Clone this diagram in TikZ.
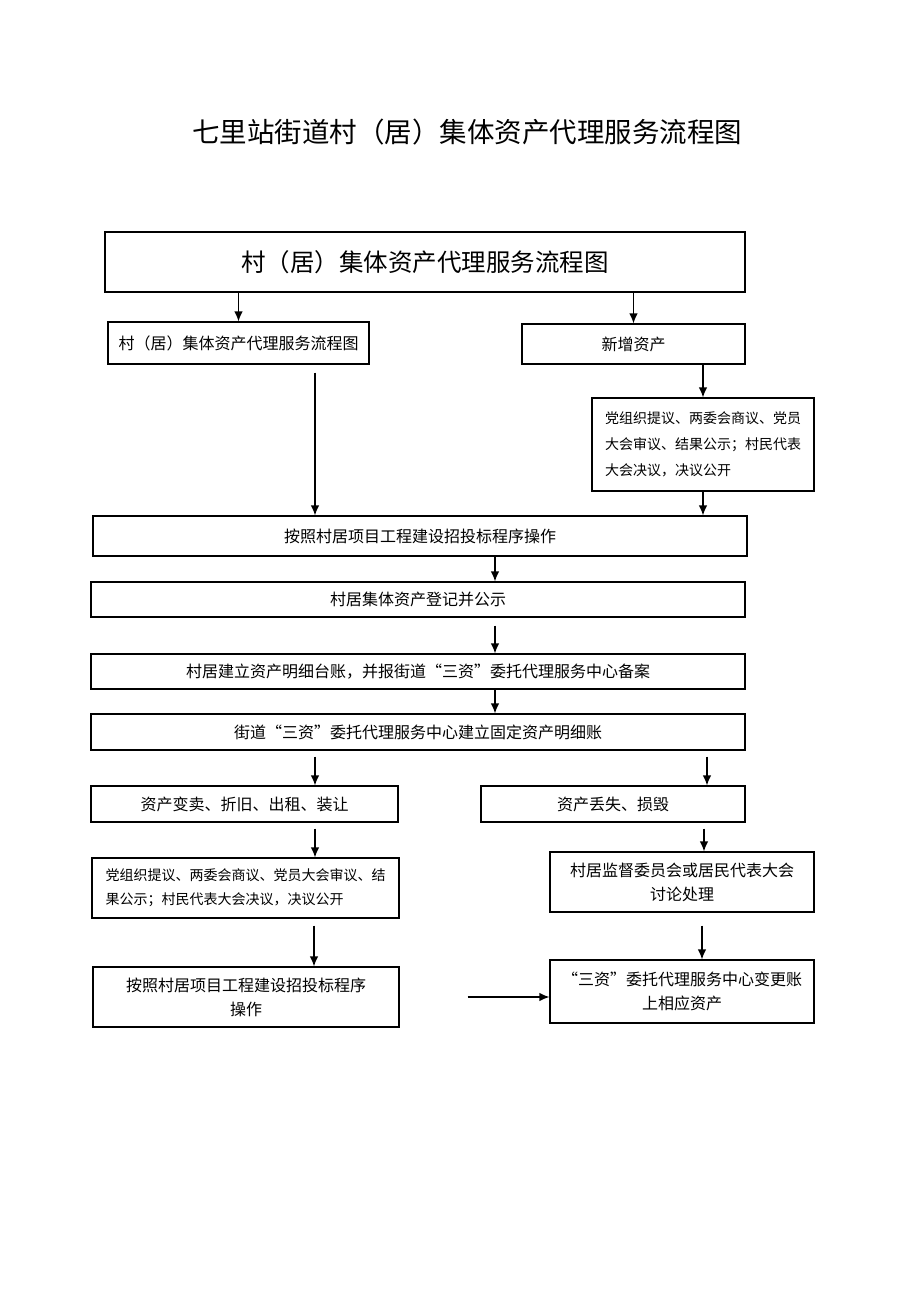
\documentclass[tikz,border=0pt]{standalone}
\usepackage{fontspec}
\setmainfont{Noto Sans CJK SC}
\usetikzlibrary{arrows, arrows.meta}
\usetikzlibrary{positioning,calc}
\tikzstyle{arrow}=[-{Latex[length=10pt,width=8.5pt]}, line width=1.3pt]
\tikzset{
    box/.style={draw, rectangle, line width=1.1pt, inner sep=0pt, align=center,
        font=\fontsize{16}{24}\selectfont},
    note/.style={box, align=left, font=\fontsize{14}{26}\selectfont}
}

\begin{document}
\begin{tikzpicture}[x=1pt, y=-1pt]
 \useasboundingbox (0,0) rectangle (920,1302);

      \node (title) at (467,132) {\fontsize{27.5}{28}\selectfont 七里站街道村（居）集体资产代理服务流程图};

      \node (top)[box, minimum width=640, minimum height=60, font=\fontsize{24.5}{26}\selectfont] at (425,262) {村（居）集体资产代理服务流程图};
      \node (lb1)[box, minimum width=261, minimum height=42] at (238.5,343) {村（居）集体资产代理服务流程图};
      \node (rb1)[box, minimum width=223, minimum height=40] at (633.5,344) {新增资产};
      \node (rb2)[note, minimum width=222, minimum height=93] at (703,444.5) {党组织提议、两委会商议、党员\\大会审议、结果公示；村民代表\\大会决议，决议公开};

      \node (op1)[box, minimum width=654, minimum height=40] at (420,536) {按照村居项目工程建设招投标程序操作};
      \node (reg)[box, minimum width=654, minimum height=35] at (418,599.5) {村居集体资产登记并公示};
      \node (acc)[box, minimum width=654, minimum height=35] at (418,671.5) {村居建立资产明细台账，并报街道“三资”委托代理服务中心备案};
      \node (fix)[box, minimum width=654, minimum height=36] at (418,732) {街道“三资”委托代理服务中心建立固定资产明细账};

      \node (sell)[box, minimum width=307, minimum height=36] at (244.5,804) {资产变卖、折旧、出租、装让};
      \node (lost)[box, minimum width=264, minimum height=36] at (613,804) {资产丢失、损毁};
      \node (vote)[note, minimum width=307, minimum height=60, font=\fontsize{14}{24}\selectfont] at (245.5,888) {党组织提议、两委会商议、党员大会审议、结\\果公示；村民代表大会决议，决议公开};
      \node (sup)[box, minimum width=264, minimum height=60] at (682,882) {村居监督委员会或居民代表大会\\讨论处理};
      \node (op2)[box, minimum width=306, minimum height=60] at (246,997) {按照村居项目工程建设招投标程序\\操作};
      \node (chg)[box, minimum width=264, minimum height=63] at (682,991.5) {“三资”委托代理服务中心变更账\\上相应资产};

  % upper part
  \draw[arrow] (top.south -| lb1.north) -- (lb1.north);
  \draw[arrow] (top.south -| rb1.north) -- (rb1.north);
  \draw[arrow] ([xshift=76.5, yshift=-8]lb1.south) -- ([xshift=76.5]lb1.south |- op1.north);
  \draw[arrow] (rb1.south -| rb2.north) -- (rb2.north);
  \draw[arrow] (rb2.south) -- (rb2.south |- op1.north);

  % middle
  \draw[arrow] ([xshift=75]op1.south) -- ([xshift=75]op1.south |- reg.north);
  \draw[arrow] ([xshift=77, yshift=-8]reg.south) -- ([xshift=77]reg.south |- acc.north);
  \draw[arrow] ([xshift=77]acc.south) -- ([xshift=77]acc.south |- fix.north);
  \draw[arrow] ([xshift=-103, yshift=-6]fix.south) -- ([xshift=-103]fix.south |- sell.north);
  \draw[arrow] ([xshift=289, yshift=-6]fix.south) -- ([xshift=289]fix.south |- lost.north);

  % lower part
  \draw[arrow] ([xshift=70.5, yshift=-6]sell.south) -- ([xshift=70.5]sell.south |- vote.north);
  \draw[arrow] ([xshift=91, yshift=-6]lost.south) -- ([xshift=91]lost.south |- sup.north);
  \draw[arrow] ([xshift=68.5, yshift=-7]vote.south) -- ([xshift=68.5]vote.south |- op2.north);
  \draw[arrow] ([xshift=20, yshift=-13]sup.south) -- ([xshift=20]sup.south |- chg.north);
  \draw[arrow] ([xshift=68]op2.east) -- (chg.west |- op2.east);

\end{tikzpicture}
\end{document}
